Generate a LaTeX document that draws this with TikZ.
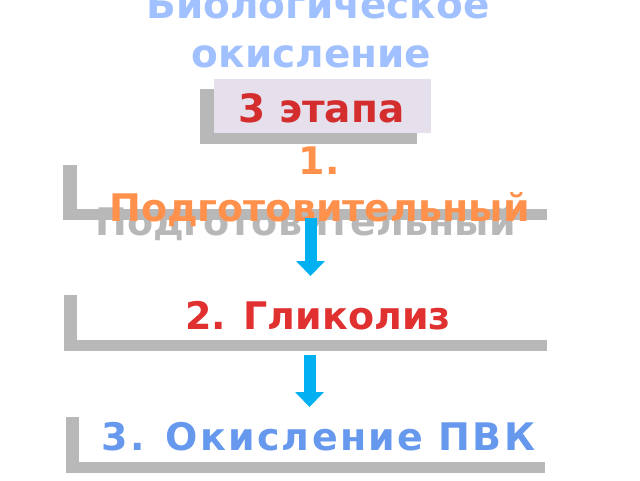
\documentclass[tikz,border=0pt]{standalone}
\usepackage{fontspec}
\setmainfont{DejaVu Sans}
\usetikzlibrary{arrows.meta}
\definecolor{titleblue}{HTML}{A0C0FF}
\definecolor{stagered}{HTML}{D42D2D}
\definecolor{glred}{HTML}{E03030}
\definecolor{prorange}{HTML}{FF914D}
\definecolor{pvkblue}{HTML}{6699EE}
\definecolor{arrblue}{HTML}{00B0F0}
\definecolor{bargray}{HTML}{B8B8B8}
\definecolor{boxfill}{HTML}{E6E0EC}
\tikzset{
  txt/.style={anchor=base, inner sep=0pt, font=\fontsize{38}{46}\selectfont\bfseries},
  bigtxt/.style={txt, font=\fontsize{39}{46}\selectfont\bfseries},
  spacedtxt/.style={txt, font=\fontsize{38}{46}\selectfont\bfseries\addfontfeature{LetterSpace=6}},
  flowarrow/.style={draw=arrblue, line width=12pt, -{Triangle[length=15pt,width=28pt]}},
}
\begin{document}
\begin{tikzpicture}[x=1pt,y=-1pt]
\useasboundingbox (0,0) rectangle (640,480);
% title
\node[bigtxt, text=titleblue] (t1) at (318,18) {Биологическое};
\node[bigtxt, text=titleblue] (t2) at (311.5,67) {окисление};
% 3 этапа box
\fill[bargray] (200,89) rectangle (417,144);
\node[fill=boxfill, minimum width=217pt, minimum height=54pt, inner sep=0pt] (stg) at (322.5,106) {};
\node[bigtxt, text=stagered] (stgt) at (321.5,122) {3 этапа};
% stage 1
\fill[bargray] (63,165) rectangle (77,220);
\fill[bargray] (63,209) rectangle (547,220);
\node[txt, text=bargray] (s1g) at (305.5,235) {Подготовительный};
\node[txt, text=prorange] (s1n) at (319,174) {1.};
\node[txt, text=prorange] (s1) at (319.5,221) {Подготовительный};
% stage 2
\fill[bargray] (64,295) rectangle (77,351);
\fill[bargray] (64,340) rectangle (547,351);
\node[txt, text=glred] (s2) at (318,329) {2. Гликолиз};
% stage 3
\fill[bargray] (66,417) rectangle (79,473);
\fill[bargray] (66,462) rectangle (545,473);
\node[spacedtxt, text=pvkblue] (s3) at (318.5,450) {3. Окисление ПВК};
% arrows
\coordinate (a1s) at (310.5,218);
\coordinate (a1e) at (310.5,276);
\coordinate (a2s) at (309.5,355);
\coordinate (a2e) at (309.5,407);
\draw[flowarrow] (a1s) -- (a1e);
\draw[flowarrow] (a2s) -- (a2e);
\end{tikzpicture}
\end{document}
